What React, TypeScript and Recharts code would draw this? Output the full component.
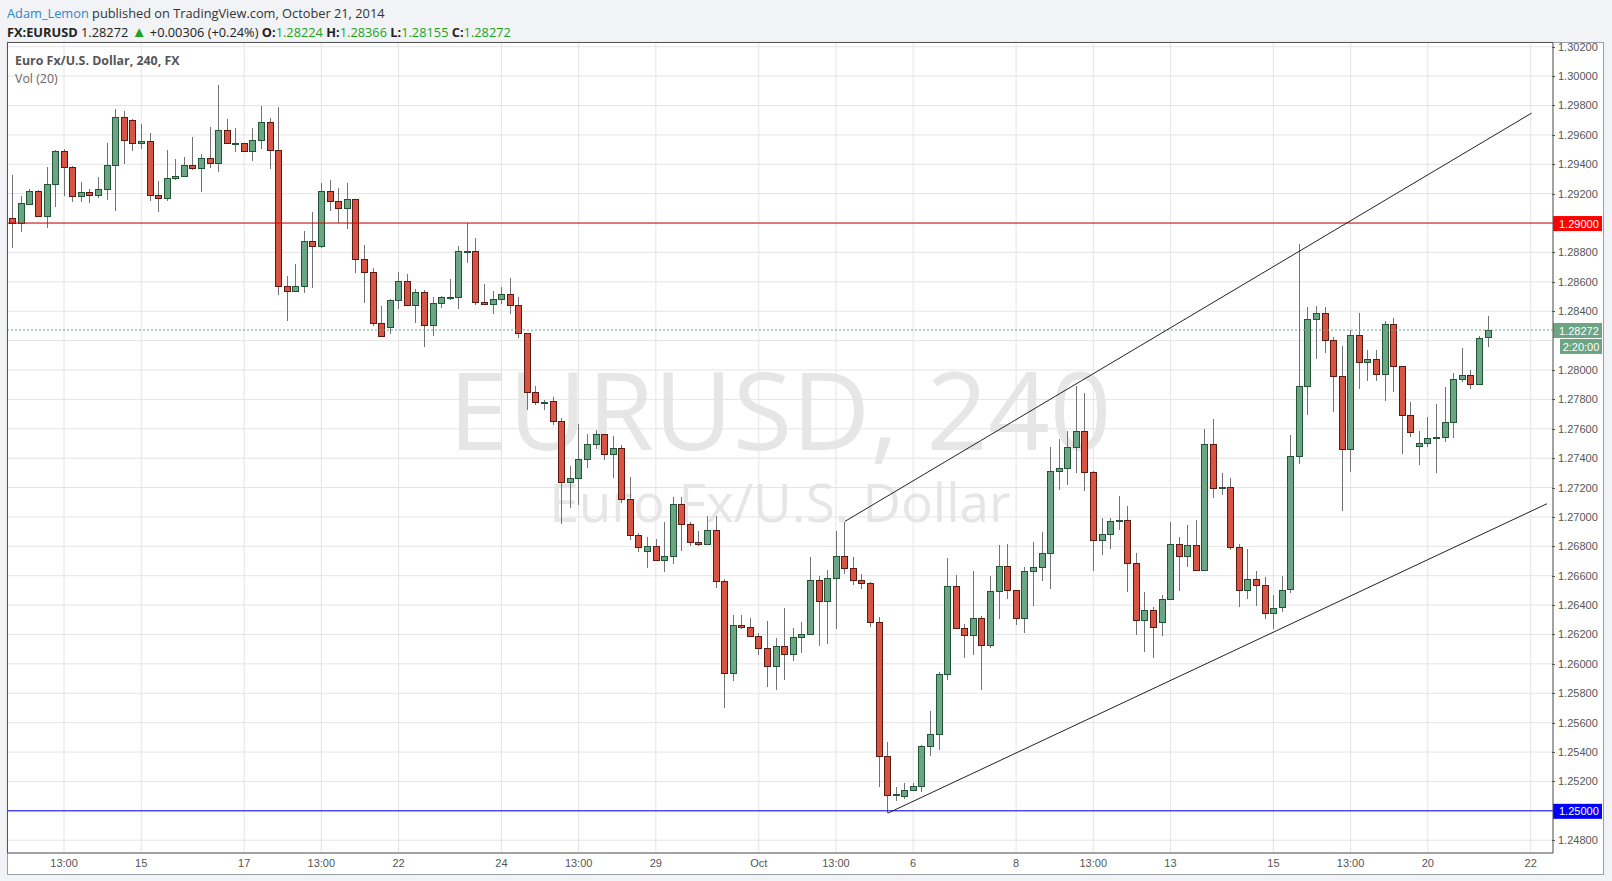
import React from 'react';
import { ComposedChart, Bar, XAxis, YAxis, CartesianGrid, ReferenceLine } from 'recharts';

// EURUSD 4h candles, Sep 10 – Oct 21 2014, bar index = position on the time axis
const OPEN = [
  1.29034, 1.29000, 1.29132, 1.29218, 1.29048, 1.29266, 1.29490, 1.29381, 1.29184, 1.29211,
  1.29191, 1.29232, 1.29395, 1.29722, 1.29701, 1.29545, 1.29558, 1.29191, 1.29170, 1.29306,
  1.29320, 1.29395, 1.29375, 1.29443, 1.29409, 1.29633, 1.29545, 1.29545, 1.29490, 1.29565,
  1.29688, 1.29497, 1.28571, 1.28537, 1.28571, 1.28877, 1.28843, 1.29218, 1.29150, 1.29102,
  1.29163, 1.28755, 1.28666, 1.28317, 1.28292, 1.28476, 1.28605, 1.28442, 1.28530, 1.28305,
  1.28455, 1.28496, 1.28496, 1.28809, 1.28809, 1.28462, 1.28448, 1.28482, 1.28516, 1.28441,
  1.28250, 1.27848, 1.27780, 1.27787, 1.27650, 1.27235, 1.27263, 1.27395, 1.27495, 1.27563,
  1.27431, 1.27468, 1.27120, 1.26875, 1.26768, 1.26800, 1.26709, 1.26737, 1.27091, 1.26955,
  1.26832, 1.26818, 1.26914, 1.26566, 1.25940, 1.26266, 1.26253, 1.26191, 1.26109, 1.25987,
  1.26123, 1.26069, 1.26184, 1.26205, 1.26573, 1.26430, 1.26587, 1.26737, 1.26655, 1.26572,
  1.26552, 1.26286, 1.25373, 1.25111, 1.25100, 1.25141, 1.25168, 1.25441, 1.25523, 1.25931,
  1.26531, 1.26245, 1.26195, 1.26313, 1.26129, 1.26497, 1.26667, 1.26504, 1.26313, 1.26634,
  1.26661, 1.26756, 1.27315, 1.27336, 1.27479, 1.27588, 1.27309, 1.26845, 1.26886, 1.26975,
  1.26980, 1.26689, 1.26300, 1.26368, 1.26286, 1.26443, 1.26818, 1.26736, 1.26811, 1.26641,
  1.27495, 1.27200, 1.27204, 1.26793, 1.26505, 1.26580, 1.26539, 1.26348, 1.26387, 1.26510,
  1.27418, 1.27890, 1.28345, 1.28386, 1.28202, 1.27956, 1.27465, 1.28236, 1.28052, 1.28072,
  1.27970, 1.28311, 1.28024, 1.27697, 1.27486, 1.27506, 1.27540, 1.27547, 1.27649, 1.27936,
  1.27963, 1.27902, 1.28224,
];
const HIGH = [
  1.29330, 1.29182, 1.29234, 1.29227, 1.29381, 1.29499, 1.29504, 1.29390, 1.29281, 1.29234,
  1.29316, 1.29547, 1.29776, 1.29763, 1.29705, 1.29676, 1.29615, 1.29288, 1.29499, 1.29438,
  1.29452, 1.29588, 1.29472, 1.29656, 1.29942, 1.29708, 1.29647, 1.29548, 1.29647, 1.29799,
  1.29715, 1.29790, 1.28639, 1.28723, 1.28948, 1.29077, 1.29272, 1.29295, 1.29241, 1.29275,
  1.29165, 1.28852, 1.28694, 1.28437, 1.28485, 1.28669, 1.28655, 1.28553, 1.28546, 1.28498,
  1.28505, 1.28621, 1.28841, 1.29000, 1.28900, 1.28587, 1.28539, 1.28566, 1.28627, 1.28496,
  1.28252, 1.27891, 1.27796, 1.27814, 1.27671, 1.27345, 1.27633, 1.27565, 1.27593, 1.27565,
  1.27552, 1.27490, 1.27272, 1.26890, 1.26861, 1.26848, 1.26964, 1.27136, 1.27136, 1.26968,
  1.26902, 1.27005, 1.27005, 1.26575, 1.26330, 1.26330, 1.26309, 1.26212, 1.26289, 1.26173,
  1.26378, 1.26241, 1.26282, 1.26725, 1.26596, 1.26639, 1.26902, 1.26968, 1.26730, 1.26615,
  1.26555, 1.26322, 1.25470, 1.25159, 1.25186, 1.25186, 1.25450, 1.25682, 1.25947, 1.26722,
  1.26602, 1.26272, 1.26629, 1.26329, 1.26595, 1.26806, 1.26813, 1.26506, 1.26661, 1.26827,
  1.26895, 1.27474, 1.27529, 1.27583, 1.27894, 1.27840, 1.27311, 1.26990, 1.26990, 1.27141,
  1.27072, 1.26752, 1.26486, 1.26386, 1.26466, 1.26963, 1.26861, 1.26943, 1.26977, 1.27597,
  1.27665, 1.27297, 1.27263, 1.26818, 1.26780, 1.26634, 1.26589, 1.26466, 1.26600, 1.27556,
  1.28856, 1.28429, 1.28436, 1.28429, 1.28222, 1.28161, 1.28270, 1.28388, 1.28133, 1.28133,
  1.28333, 1.28354, 1.28026, 1.27779, 1.27584, 1.27677, 1.27768, 1.27881, 1.27977, 1.28152,
  1.27997, 1.28229, 1.28366,
];
const LOW = [
  1.28830, 1.28936, 1.29125, 1.29045, 1.28964, 1.29107, 1.29182, 1.29141, 1.29141, 1.29134,
  1.29168, 1.29154, 1.29080, 1.29400, 1.29488, 1.29506, 1.29148, 1.29073, 1.29148, 1.29291,
  1.29318, 1.29359, 1.29209, 1.29372, 1.29345, 1.29543, 1.29481, 1.29481, 1.29420, 1.29506,
  1.29365, 1.28507, 1.28330, 1.28530, 1.28523, 1.28555, 1.28830, 1.29080, 1.29000, 1.28957,
  1.28657, 1.28453, 1.28296, 1.28228, 1.28242, 1.28412, 1.28440, 1.28323, 1.28156, 1.28228,
  1.28419, 1.28473, 1.28412, 1.28727, 1.28439, 1.28446, 1.28384, 1.28452, 1.28384, 1.28221,
  1.27730, 1.27764, 1.27730, 1.27628, 1.26953, 1.27064, 1.27084, 1.27331, 1.27463, 1.27390,
  1.27268, 1.27098, 1.26843, 1.26760, 1.26652, 1.26705, 1.26625, 1.26682, 1.26768, 1.26802,
  1.26802, 1.26809, 1.26516, 1.25698, 1.25882, 1.26239, 1.26182, 1.26059, 1.25841, 1.25821,
  1.25889, 1.26019, 1.26073, 1.26203, 1.26121, 1.26134, 1.26237, 1.26614, 1.26537, 1.26511,
  1.26250, 1.25159, 1.24984, 1.25064, 1.25080, 1.25132, 1.25125, 1.25370, 1.25413, 1.25890,
  1.26243, 1.26040, 1.26060, 1.25822, 1.26109, 1.26306, 1.26443, 1.26265, 1.26211, 1.26395,
  1.26565, 1.26511, 1.27186, 1.27220, 1.27300, 1.27177, 1.26632, 1.26741, 1.26782, 1.26911,
  1.26489, 1.26198, 1.26082, 1.26041, 1.26189, 1.26441, 1.26495, 1.26659, 1.26632, 1.26639,
  1.27132, 1.27150, 1.26777, 1.26389, 1.26441, 1.26395, 1.26305, 1.26236, 1.26352, 1.26480,
  1.27361, 1.27695, 1.28077, 1.28118, 1.27715, 1.27041, 1.27306, 1.27872, 1.27927, 1.27927,
  1.27790, 1.27852, 1.27429, 1.27545, 1.27354, 1.27477, 1.27299, 1.27513, 1.27540, 1.27915,
  1.27874, 1.27895, 1.28155,
];
const CLOSE = [
  1.29000, 1.29136, 1.29218, 1.29048, 1.29266, 1.29490, 1.29381, 1.29184, 1.29211, 1.29191,
  1.29232, 1.29395, 1.29722, 1.29565, 1.29545, 1.29558, 1.29191, 1.29170, 1.29306, 1.29320,
  1.29395, 1.29375, 1.29443, 1.29409, 1.29633, 1.29545, 1.29548, 1.29490, 1.29565, 1.29688,
  1.29497, 1.28571, 1.28537, 1.28571, 1.28877, 1.28843, 1.29218, 1.29150, 1.29102, 1.29163,
  1.28755, 1.28666, 1.28317, 1.28230, 1.28476, 1.28605, 1.28442, 1.28530, 1.28305, 1.28455,
  1.28496, 1.28498, 1.28809, 1.28811, 1.28462, 1.28448, 1.28482, 1.28516, 1.28441, 1.28250,
  1.27848, 1.27780, 1.27784, 1.27650, 1.27235, 1.27263, 1.27395, 1.27495, 1.27563, 1.27431,
  1.27468, 1.27120, 1.26875, 1.26796, 1.26800, 1.26709, 1.26737, 1.27091, 1.26955, 1.26832,
  1.26818, 1.26914, 1.26566, 1.25940, 1.26266, 1.26253, 1.26191, 1.26109, 1.25987, 1.26123,
  1.26069, 1.26184, 1.26205, 1.26573, 1.26430, 1.26587, 1.26737, 1.26655, 1.26573, 1.26552,
  1.26286, 1.25373, 1.25107, 1.25116, 1.25141, 1.25168, 1.25441, 1.25523, 1.25931, 1.26531,
  1.26245, 1.26195, 1.26313, 1.26129, 1.26497, 1.26667, 1.26504, 1.26313, 1.26634, 1.26661,
  1.26756, 1.27315, 1.27336, 1.27479, 1.27588, 1.27309, 1.26845, 1.26886, 1.26975, 1.26980,
  1.26689, 1.26300, 1.26368, 1.26252, 1.26443, 1.26818, 1.26736, 1.26811, 1.26641, 1.27495,
  1.27200, 1.27204, 1.26793, 1.26505, 1.26580, 1.26539, 1.26348, 1.26382, 1.26506, 1.27418,
  1.27890, 1.28345, 1.28386, 1.28202, 1.27956, 1.27465, 1.28236, 1.28052, 1.28072, 1.27970,
  1.28311, 1.28024, 1.27697, 1.27575, 1.27506, 1.27540, 1.27545, 1.27649, 1.27936, 1.27963,
  1.27902, 1.28215, 1.28272,
];

const X_TICKS = [6, 15, 27, 36, 45, 57, 66, 75, 87, 96, 105, 117, 126, 135, 147, 156, 165, 177];
const X_LABELS = ['13:00', '15', '17', '13:00', '22', '24', '13:00', '29', 'Oct', '13:00', '6', '8', '13:00', '13', '15', '13:00', '20', '22'];
const Y_TICKS = [
  1.248, 1.25, 1.252, 1.254, 1.256, 1.258, 1.26, 1.262, 1.264, 1.266, 1.268, 1.27, 1.272, 1.274,
  1.276, 1.278, 1.28, 1.282, 1.284, 1.286, 1.288, 1.29, 1.292, 1.294, 1.296, 1.298, 1.3, 1.302,
];
// labels hidden behind the price tags on the axis
const Y_HIDDEN = [1.25, 1.282, 1.29];

const RESISTANCE = 1.29;
const SUPPORT = 1.25;
const LAST = 1.28272;
const COUNTDOWN = '2:20:00';
const CHANNEL_UPPER = [{ x: 97.05, y: 1.2697 }, { x: 177.1, y: 1.29748 }];
const CHANNEL_LOWER = [{ x: 102.05, y: 1.24984 }, { x: 178.9, y: 1.2709 }];

const UP = '#6ba583';
const UP_EDGE = '#225437';
const DOWN = '#d75442';
const DOWN_EDGE = '#5b1a13';
const WICK = '#737375';
const AXIS_FONT = '"Liberation Sans", Arial, sans-serif';
const UI_FONT = '"Open Sans", "Noto Sans", sans-serif';

const candles = OPEN.map((o, i) => ({
  i,
  open: o,
  high: HIGH[i],
  low: LOW[i],
  close: CLOSE[i],
  range: [LOW[i], HIGH[i]],
}));

function Candle(props: any) {
  const { x, y, width, height, payload } = props;
  if (!payload || height == null) return null;
  const { open, close, high, low } = payload;
  const ratio = height / Math.max(high - low, 1e-9);
  const yOf = (v: number) => y + (high - v) * ratio;
  const cx = Math.round(x + width / 2);
  const up = close >= open;
  const top = Math.round(yOf(Math.max(open, close))) + 0.5;
  const bot = Math.round(yOf(Math.min(open, close))) + 0.5;
  return (
    <g>
      <line x1={cx + 0.5} x2={cx + 0.5} y1={Math.round(yOf(high))} y2={Math.round(yOf(low))} stroke={WICK} strokeWidth={1} />
      <rect
        x={cx - 2.5}
        y={top}
        width={6}
        height={Math.max(bot - top, 1)}
        fill={up ? UP : DOWN}
        stroke={up ? UP_EDGE : DOWN_EDGE}
        strokeWidth={1}
      />
    </g>
  );
}

function PriceTag({ viewBox, text, bg }: any) {
  if (!viewBox) return null;
  const left = viewBox.x + viewBox.width;
  const cy = viewBox.y;
  return (
    <g>
      <rect x={left} y={cy - 7} width={49} height={15} fill={bg} />
      <text x={left + 6} y={cy + 4.5} fill="#fff" fontSize={11} fontFamily={AXIS_FONT}>{text}</text>
    </g>
  );
}

function LastTag({ viewBox }: any) {
  if (!viewBox) return null;
  const left = viewBox.x + viewBox.width;
  const cy = viewBox.y;
  return (
    <g>
      <rect x={left} y={cy - 7} width={49} height={15} fill={UP} />
      <text x={left + 6} y={cy + 4.5} fill="#fff" fontSize={11} fontFamily={AXIS_FONT}>{LAST.toFixed(5)}</text>
      <rect x={left + 7} y={cy + 9} width={42} height={15} fill={UP} />
      <text x={left + 28} y={cy + 20.5} fill="#fff" fontSize={11} fontFamily={AXIS_FONT} textAnchor="middle">{COUNTDOWN}</text>
    </g>
  );
}

function YTick({ x, y, payload }: any) {
  const v = payload.value;
  if (Y_HIDDEN.some((h) => Math.abs(h - v) < 1e-6)) return null;
  return (
    <g>
      <line x1={x - 3} x2={x} y1={Math.round(y) + 0.5} y2={Math.round(y) + 0.5} stroke="#555" />
      <text x={x + 3} y={y + 4} fill="#555" fontSize={11} fontFamily={AXIS_FONT}>{v.toFixed(5)}</text>
    </g>
  );
}

function XTick({ x, y, payload }: any) {
  const idx = X_TICKS.indexOf(payload.value);
  return (
    <text x={x} y={y + 12} fill="#555" fontSize={11} fontFamily={AXIS_FONT} textAnchor="middle">
      {X_LABELS[idx]}
    </text>
  );
}

export default function App() {
  const green = '#1da31d';
  return (
    <div style={{ position: 'absolute', left: 0, top: 0, width: 1612, height: 881, background: '#f1f3f6', overflow: 'hidden', fontFamily: UI_FONT }}>
      <div style={{ position: 'absolute', left: 7, top: 4, fontSize: 12.8, color: '#333', whiteSpace: 'nowrap' }}>
        <span style={{ color: '#2f86c9' }}>Adam_Lemon</span> published on TradingView.com, October 21, 2014
      </div>
      <div style={{ position: 'absolute', left: 7, top: 21, fontSize: 12.8, color: '#222', whiteSpace: 'nowrap' }}>
        <b>FX:EURUSD</b> 1.28272 <span style={{ color: green, fontSize: 15 }}>▲</span> +0.00306 (+0.24%){' '}
        <b>O:</b><span style={{ color: green }}>1.28224</span> <b>H:</b><span style={{ color: green }}>1.28366</span>{' '}
        <b>L:</b><span style={{ color: green }}>1.28155</span> <b>C:</b><span style={{ color: green }}>1.28272</span>
      </div>
      <div style={{ position: 'absolute', left: 7, top: 42, width: 1597, height: 833, background: '#fff', boxSizing: 'border-box', border: '1px solid #9aa0a6' }} />
      <svg width={1612} height={881} style={{ position: 'absolute', left: 0, top: 0 }}>
        <text x={780} y={450} textAnchor="middle" fontSize={108} fill="#e6e6e6" fontFamily={UI_FONT}>EURUSD, 240</text>
        <text x={780} y={522} textAnchor="middle" fontSize={53} fill="#e6e6e6" fontFamily={UI_FONT}>Euro Fx/U.S. Dollar</text>
      </svg>
      <div style={{ position: 'absolute', left: 0, top: 0 }}>
        <ComposedChart width={1612} height={881} data={candles} margin={{ top: 42, right: 7, bottom: 7, left: 7 }}>
          <CartesianGrid stroke="#e4e4e4" />
          <XAxis
            dataKey="i"
            type="number"
            domain={[-0.65, 179.6]}
            ticks={X_TICKS}
            interval={0}
            height={21}
            tickLine={false}
            tickSize={0}
            axisLine={{ stroke: '#555' }}
            tick={<XTick />}
            allowDataOverflow
          />
          <YAxis
            orientation="right"
            type="number"
            domain={[1.24713, 1.30232]}
            ticks={Y_TICKS}
            interval={0}
            width={52}
            tickLine={false}
            tickSize={0}
            axisLine={{ stroke: '#555' }}
            tick={<YTick />}
            allowDataOverflow
          />
          <ReferenceLine y={RESISTANCE} stroke="#d40000" strokeWidth={1} label={<PriceTag text={RESISTANCE.toFixed(5)} bg="#ff0000" />} />
          <ReferenceLine y={SUPPORT} stroke="#0000ff" strokeWidth={1} label={<PriceTag text={SUPPORT.toFixed(5)} bg="#0000ff" />} />
          <ReferenceLine y={LAST} stroke={UP} strokeDasharray="2 2" label={<LastTag />} />
          <Bar dataKey="range" barSize={6} shape={<Candle />} isAnimationActive={false} />
          <ReferenceLine segment={CHANNEL_UPPER} stroke="#222" strokeWidth={1} />
          <ReferenceLine segment={CHANNEL_LOWER} stroke="#222" strokeWidth={1} />
        </ComposedChart>
      </div>
      <div style={{ position: 'absolute', left: 7, top: 42, width: 1546, height: 811, boxSizing: 'border-box', borderTop: '1px solid #555', borderLeft: '1px solid #555', pointerEvents: 'none' }} />
      <div style={{ position: 'absolute', left: 15, top: 52, fontSize: 12.4, fontWeight: 700, color: '#555', whiteSpace: 'nowrap' }}>
        Euro Fx/U.S. Dollar, 240, FX
      </div>
      <div style={{ position: 'absolute', left: 15, top: 70, fontSize: 12.4, color: '#666', whiteSpace: 'nowrap' }}>Vol (20)</div>
    </div>
  );
}
